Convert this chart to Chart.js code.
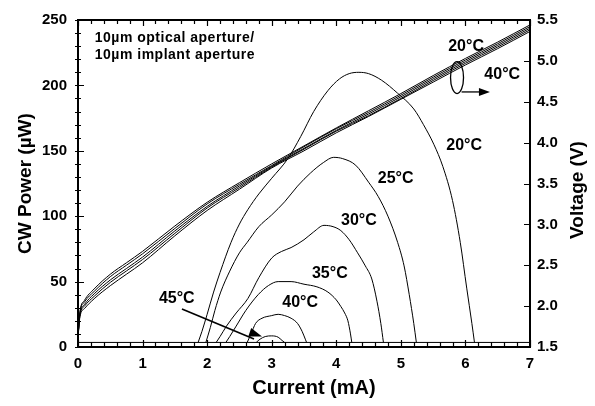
<!DOCTYPE html>
<html>
<head>
<meta charset="utf-8">
<script src="https://cdn.jsdelivr.net/npm/chart.js@4.4.1/dist/chart.umd.min.js"></script>
<style>
  html, body { margin: 0; padding: 0; background: #fff; }
  #wrap { width: 595px; height: 406px; }
</style>
</head>
<body>
<div id="wrap"><canvas id="c"></canvas></div>
<script>
// CW power vs current (uA) for each temperature
const i20 = [1.86, 1.92, 2.0, 2.1, 2.2, 2.37, 2.5, 2.63, 2.8, 3.0, 3.25, 3.45, 3.65, 3.87, 4.05, 4.2, 4.35, 4.5, 4.7, 4.95, 5.2, 5.35, 5.51, 5.65, 5.8, 5.92, 6.02, 6.1, 6.14];
const p20 = [3.5, 12, 25, 42, 57, 80, 94, 105, 117, 129, 144, 161, 180, 196, 205, 209, 210, 209, 204, 194, 182, 170, 155, 138, 112, 80, 45, 18, 3.5];
const i25 = [1.98, 2.05, 2.12, 2.21, 2.35, 2.5, 2.62, 2.8, 3.0, 3.2, 3.4, 3.6, 3.8, 3.96, 4.1, 4.3, 4.5, 4.65, 4.8, 4.95, 5.05, 5.13, 5.2, 5.24];
const p25 = [3.5, 15, 28, 42, 58, 72, 80, 92, 101, 111, 123, 133, 141, 145, 144, 139, 126, 115, 100, 80, 62, 40, 18, 3.5];
const i30 = [2.14, 2.2, 2.3, 2.45, 2.63, 2.8, 3.0, 3.15, 3.3, 3.5, 3.65, 3.81, 3.95, 4.07, 4.2, 4.33, 4.45, 4.55, 4.63, 4.69, 4.73];
const p30 = [3.5, 8, 16, 26, 37, 53, 68, 73, 76, 82, 88, 93, 92, 89, 82, 72, 62, 52, 35, 18, 3.5];
const i35 = [2.29, 2.35, 2.45, 2.6, 2.79, 2.95, 3.1, 3.3, 3.5, 3.7, 3.87, 4.0, 4.07, 4.13, 4.18, 4.22, 4.24];
const p35 = [3.5, 8, 16, 28, 40, 47, 50, 50, 48, 46, 42, 36, 31, 26, 20, 10, 3.5];
const i40 = [2.62, 2.68, 2.75, 2.85, 3.0, 3.1, 3.2, 3.3, 3.4, 3.47, 3.52, 3.54];
const p40 = [3.5, 10, 18, 22, 24, 25, 24, 22, 18, 12, 6, 3.5];
const i45 = [2.76, 2.82, 2.9, 3.0, 3.1, 3.16, 3.2];
const p45 = [3.5, 6, 8, 8.5, 7.5, 5, 3.5];
const iBase = [0, 7];
const pBase = [3.5, 3.5];

// voltage vs current, 20..40 C
const iV = [0, 0.03, 0.1, 0.25, 0.5, 0.75, 1.0, 1.5, 2.0, 2.5, 3.0, 3.5, 4.0, 4.5, 5.0, 5.5, 6.0, 6.5, 7.0];
const v20 = [1.63, 1.93, 2.07, 2.21, 2.39, 2.53, 2.67, 2.98, 3.27, 3.51, 3.74, 3.96, 4.18, 4.39, 4.60, 4.82, 5.03, 5.23, 5.44];
const v25 = [1.63, 1.92, 2.05, 2.18, 2.36, 2.50, 2.64, 2.95, 3.25, 3.49, 3.72, 3.95, 4.17, 4.37, 4.58, 4.80, 5.01, 5.21, 5.42];
const v30 = [1.62, 1.90, 2.02, 2.15, 2.32, 2.46, 2.60, 2.92, 3.22, 3.47, 3.71, 3.93, 4.15, 4.35, 4.56, 4.78, 4.99, 5.19, 5.40];
const v35 = [1.62, 1.89, 2.00, 2.12, 2.29, 2.43, 2.57, 2.89, 3.20, 3.45, 3.70, 3.92, 4.14, 4.33, 4.54, 4.76, 4.97, 5.17, 5.38];
const v40 = [1.61, 1.87, 1.97, 2.09, 2.25, 2.39, 2.53, 2.86, 3.17, 3.43, 3.69, 3.90, 4.12, 4.32, 4.53, 4.74, 4.95, 5.15, 5.36];

// text annotations (x in mA, y in uW)
const notes = [
  { t: '20°C', x: 6.01, y: 230 },
  { t: '40°C', x: 6.57, y: 208 },
  { t: '20°C', x: 5.98, y: 154 },
  { t: '25°C', x: 4.92, y: 129 },
  { t: '30°C', x: 4.35, y: 97 },
  { t: '35°C', x: 3.90, y: 56 },
  { t: '40°C', x: 3.44, y: 34 },
  { t: '45°C', x: 1.53, y: 37 }
];

function pts(xs, ys) { return xs.map((v, k) => ({ x: v, y: ys[k] })); }

function line(data, axis) {
  return {
    data: data, yAxisID: axis, borderColor: '#000', borderWidth: 1,
    pointRadius: 0, fill: false, cubicInterpolationMode: 'monotone'
  };
}

function arrowHead(ctx, x1, y1, x2, y2, len, half) {
  const a = Math.atan2(y2 - y1, x2 - x1);
  ctx.beginPath();
  ctx.moveTo(x2, y2);
  ctx.lineTo(x2 - len * Math.cos(a) + half * Math.sin(a), y2 - len * Math.sin(a) - half * Math.cos(a));
  ctx.lineTo(x2 - len * Math.cos(a) - half * Math.sin(a), y2 - len * Math.sin(a) + half * Math.cos(a));
  ctx.closePath();
  ctx.fill();
}

const decor = {
  id: 'decor',
  afterDatasetsDraw(chart) {
    const { ctx, chartArea: a, scales } = chart;
    const x = scales.x, y = scales.y, yV = scales.yV;
    ctx.save();
    ctx.strokeStyle = '#000';
    ctx.fillStyle = '#000';
    ctx.lineWidth = 2;
    ctx.strokeRect(a.left, a.top, a.right - a.left, a.bottom - a.top);

    // tick marks
    ctx.lineWidth = 1.2;
    ctx.beginPath();
    for (let k = 0; k <= 35; k++) {
      const px = Math.round(x.getPixelForValue(k * 0.2)) + 0.5;
      const len = k % 5 === 0 ? 7 : 5;
      ctx.moveTo(px, a.bottom); ctx.lineTo(px, a.bottom - len);
      ctx.moveTo(px, a.top); ctx.lineTo(px, a.top + (k % 5 === 0 ? 6 : 4));
    }
    for (let k = 0; k <= 25; k++) {
      const py = Math.round(y.getPixelForValue(k * 10)) + 0.5;
      ctx.moveTo(a.left - 3, py); ctx.lineTo(a.left + (k % 5 === 0 ? 6 : 3), py);
    }
    for (let k = 0; k <= 8; k++) {
      const py = Math.round(yV.getPixelForValue(1.5 + k * 0.5)) + 0.5;
      ctx.moveTo(a.right, py); ctx.lineTo(a.right - 6, py);
    }
    ctx.stroke();

    // ellipse round the voltage bundle and its arrow
    ctx.lineWidth = 1.3;
    const ex = x.getPixelForValue(5.87), ey = y.getPixelForValue(206);
    ctx.beginPath();
    ctx.ellipse(ex, ey, 6.5, 16, 0, 0, Math.PI * 2);
    ctx.stroke();
    const ax1 = x.getPixelForValue(5.94), ay = y.getPixelForValue(195);
    const ax2 = x.getPixelForValue(6.38);
    ctx.beginPath(); ctx.moveTo(ax1, ay); ctx.lineTo(ax2 - 6, ay); ctx.stroke();
    arrowHead(ctx, ax1, ay, ax2, ay, 11, 4);

    // arrow to the 45 C curve
    const bx1 = x.getPixelForValue(1.61), by1 = y.getPixelForValue(29);
    const bx2 = x.getPixelForValue(2.85), by2 = y.getPixelForValue(8);
    ctx.lineWidth = 1.6;
    ctx.beginPath(); ctx.moveTo(bx1, by1); ctx.lineTo(bx2 - 8, by2 + 2.5); ctx.stroke();
    arrowHead(ctx, bx1, by1, bx2, by2, 13, 4.5);

    // labels
    ctx.font = 'bold 16px "Liberation Sans", Arial, sans-serif';
    ctx.textAlign = 'center';
    ctx.textBaseline = 'middle';
    notes.forEach(n => ctx.fillText(n.t, x.getPixelForValue(n.x), y.getPixelForValue(n.y)));

    ctx.font = 'bold 14px "Liberation Sans", Arial, sans-serif';
    ctx.letterSpacing = '0.5px';
    ctx.textAlign = 'left';
    ctx.fillText('10µm optical aperture/', x.getPixelForValue(0.26), y.getPixelForValue(236));
    ctx.fillText('10µm implant aperture', x.getPixelForValue(0.26), y.getPixelForValue(223));
    ctx.letterSpacing = '0px';

    // axis titles
    ctx.font = 'bold 20px "Liberation Sans", Arial, sans-serif';
    ctx.textAlign = 'center';
    ctx.fillText('Current (mA)', 314, 388);
    ctx.font = 'bold 19px "Liberation Sans", Arial, sans-serif';
    ctx.translate(578, 190);
    ctx.rotate(-Math.PI / 2);
    ctx.fillText('Voltage (V)', 0, 0);
    ctx.restore();
  }
};

const tickFont = { family: '"Liberation Sans", Arial, sans-serif', size: 15, weight: 'bold' };
const titleFont = { family: '"Liberation Sans", Arial, sans-serif', size: 19, weight: 'bold' };

new Chart(document.getElementById('c'), {
  type: 'line',
  data: {
    datasets: [
      line(pts(iBase, pBase), 'y'),
      line(pts(i20, p20), 'y'),
      line(pts(i25, p25), 'y'),
      line(pts(i30, p30), 'y'),
      line(pts(i35, p35), 'y'),
      line(pts(i40, p40), 'y'),
      line(pts(i45, p45), 'y'),
      line(pts(iV, v20), 'yV'),
      line(pts(iV, v25), 'yV'),
      line(pts(iV, v30), 'yV'),
      line(pts(iV, v35), 'yV'),
      line(pts(iV, v40), 'yV')
    ]
  },
  options: {
    responsive: true,
    maintainAspectRatio: false,
    animation: false,
    layout: { padding: { top: 14, left: 0, right: 0, bottom: 0 } },
    plugins: { legend: { display: false }, tooltip: { enabled: false } },
    scales: {
      x: {
        type: 'linear', position: 'bottom', min: 0, max: 7,
        ticks: { stepSize: 1, color: '#000', font: tickFont, padding: 8 },
        grid: { display: false, drawTicks: false },
        border: { display: true, color: '#000', width: 2 },
        afterFit(s) { s.height = 59; }
      },
      y: {
        type: 'linear', position: 'left', min: 0, max: 250,
        ticks: { stepSize: 50, color: '#000', font: tickFont, padding: 11 },
        grid: { display: false, drawTicks: false },
        border: { display: true, color: '#000', width: 2 },
        title: { display: true, text: 'CW Power (µW)', color: '#000', font: titleFont, padding: { top: 14, bottom: 0 } },
        afterFit(s) { s.width = 78; }
      },
      yV: {
        type: 'linear', position: 'right', min: 1.5, max: 5.5,
        ticks: { stepSize: 0.5, color: '#000', font: tickFont, padding: 7, callback: v => v.toFixed(1) },
        grid: { display: false, drawTicks: false },
        border: { display: true, color: '#000', width: 2 },
        afterFit(s) { s.width = 65; }
      }
    }
  },
  plugins: [decor]
});
</script>
</body>
</html>
